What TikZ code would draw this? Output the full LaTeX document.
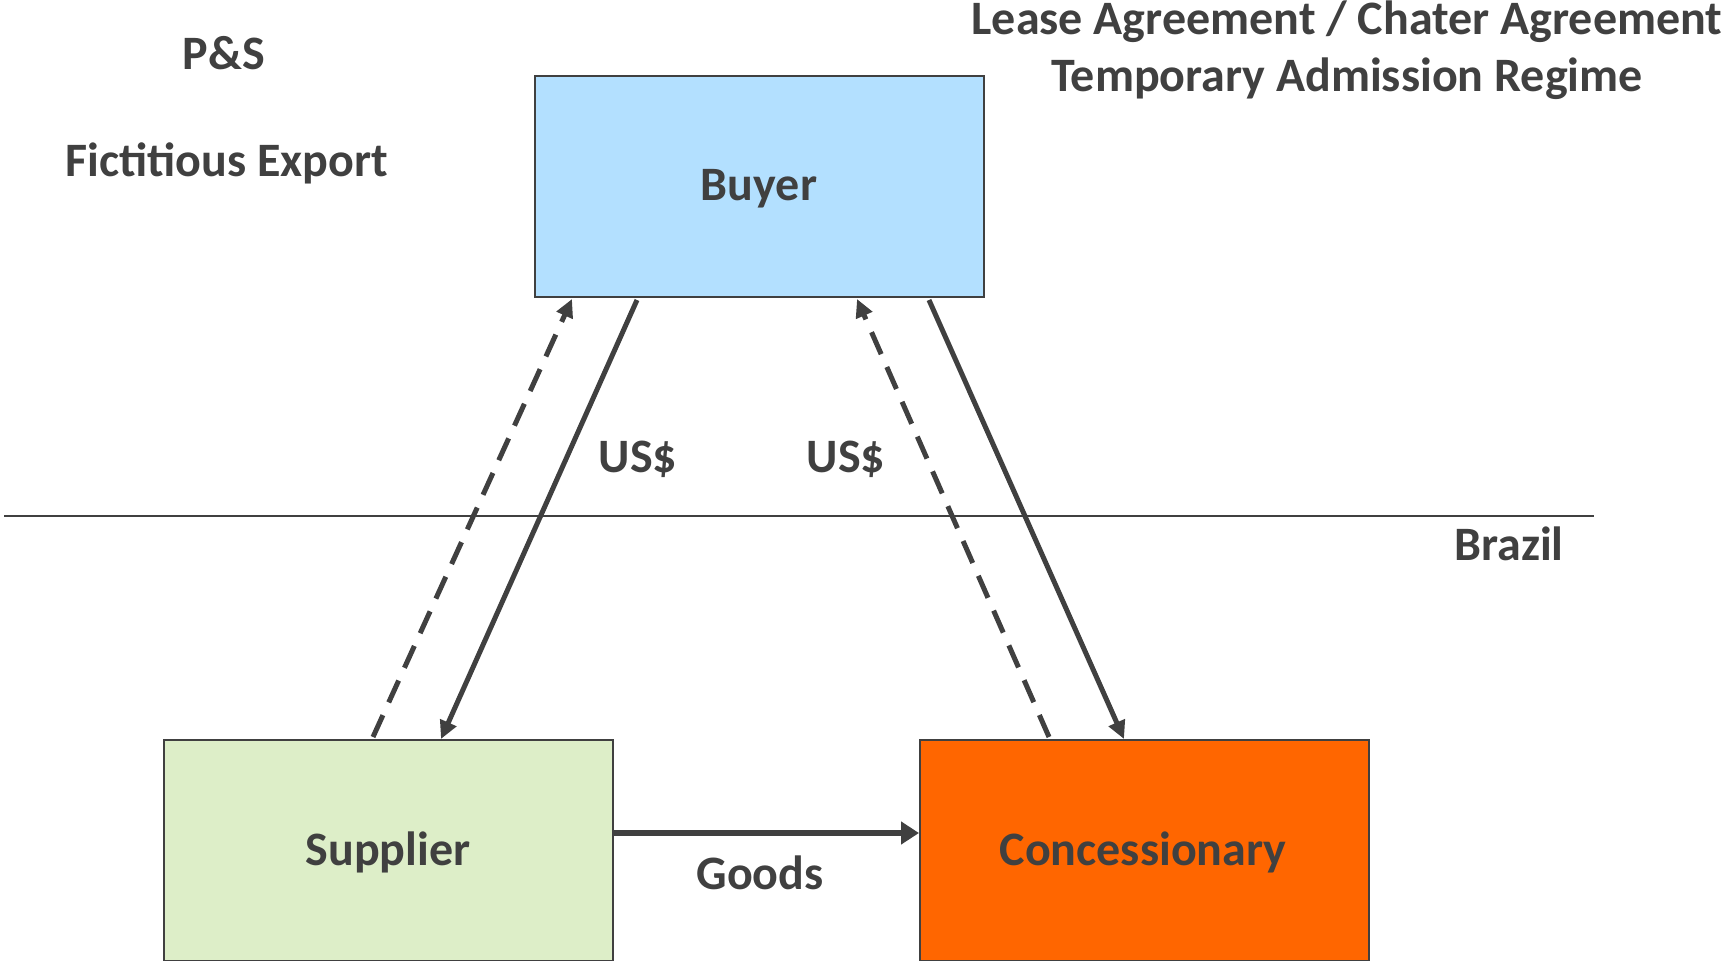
\documentclass[tikz,border=0pt]{standalone}
\usepackage{fontspec}
\setmainfont{Carlito}
\usetikzlibrary{arrows.meta,calc}
\definecolor{ink}{HTML}{404040}
\definecolor{buyerfill}{HTML}{B3E0FF}
\definecolor{supfill}{HTML}{DDEEC8}
\definecolor{concfill}{HTML}{FF6600}
\tikzset{
  box/.style={draw=ink,line width=2pt,minimum width=449pt,minimum height=221pt,inner sep=0pt},
  lbl/.style={font=\fontsize{48}{56}\selectfont\bfseries,text=ink,inner sep=0pt,align=center},
  flow/.style={draw=ink,line width=5pt,-{Triangle[length=18pt,width=17pt]}},
  dflow/.style={flow,dash pattern=on 24pt off 14pt},
}
\begin{document}
\begin{tikzpicture}[x=1pt,y=-1pt]
\useasboundingbox (0,0) rectangle (1730,961);
\node[box,fill=buyerfill,anchor=north west] (buyer) at (534,75) {};
\node[lbl] (buyertxt) at (759,189) {Buyer};
\node[box,fill=supfill,anchor=north west] (supplier) at (163,739) {};
\node[lbl] (suptxt) at (388,852) {Supplier};
\node[box,fill=concfill,anchor=north west] (conc) at (919,739) {};
\node[lbl] (conctxt) at (1143,852) {Concessionary};

\node[lbl] (ps) at (224,53) {P\&S};
\node[lbl] (fict) at (227,163) {Fictitious Export};
\node[lbl] (lease) at (1347,22) {Lease Agreement / Chater Agreement};
\node[lbl] (tar) at (1347,79) {Temporary Admission Regime};
\node[lbl] (brazil) at (1509,544) {Brazil};
\node[lbl] (usl) at (638,459) {US\$};
\node[lbl] (usr) at (846,459) {US\$};
\node[lbl] (goods) at (760,873) {Goods};

\coordinate (lineL) at (4,516);
\coordinate (lineR) at (1594,516);
\draw[ink,line width=2pt] (lineL) -- (lineR);

\draw[flow] ($(buyer.south west)+(103,2)$) -- ($(supplier.north west)+(278,0)$);
\draw[dflow] ($(supplier.north west)+(210,-2)$) -- ($(buyer.south west)+(38,1)$);
\draw[dflow] ($(conc.north west)+(130,-2)$) -- ($(buyer.south west)+(323,1)$);
\draw[flow] ($(buyer.south west)+(395,2)$) -- ($(conc.north west)+(205,0)$);
\draw[draw=ink,line width=6pt,-{Triangle[length=18pt,width=22pt]}] ($(supplier.north east)+(0,94)$) -- ($(conc.north west)+(0,94)$);
\end{tikzpicture}
\end{document}
